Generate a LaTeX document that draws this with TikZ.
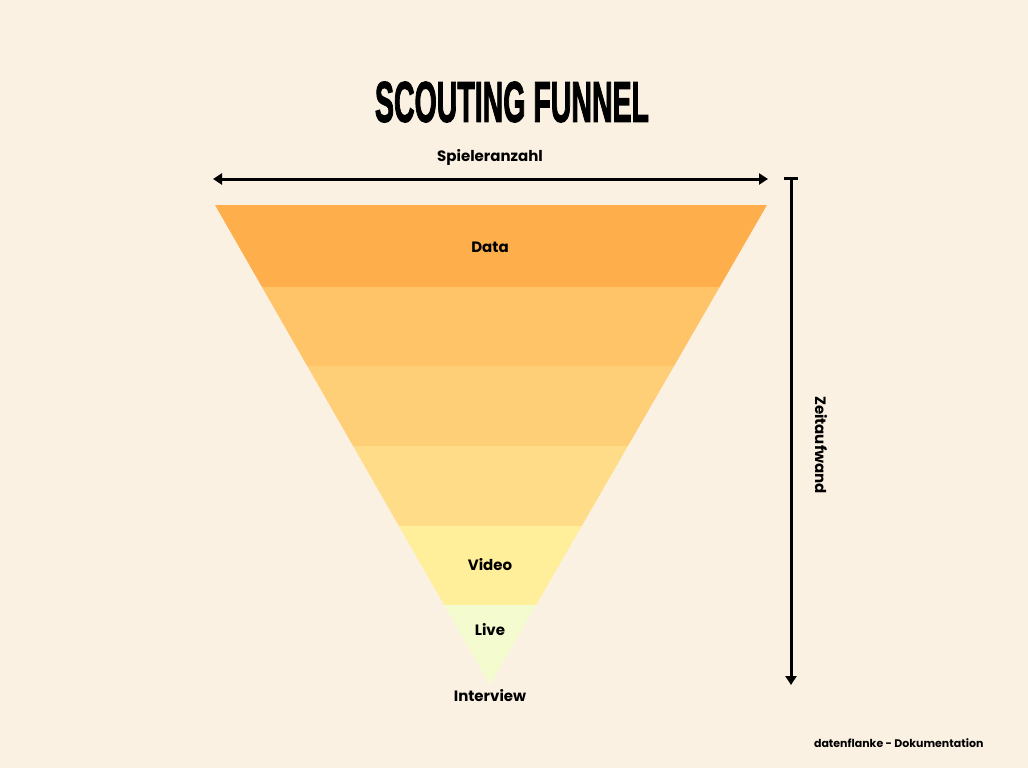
\documentclass[tikz,border=0pt]{standalone}
\usepackage{fontspec}
\setmainfont{Poppins}
\newfontfamily\headfont[FakeBold=2.5]{Liberation Sans}
\usetikzlibrary{arrows.meta}
\definecolor{paper}{HTML}{FBF1E3}
\definecolor{bandA}{HTML}{FFAE4C}
\definecolor{bandB}{HTML}{FFC468}
\definecolor{bandC}{HTML}{FFCF78}
\definecolor{bandD}{HTML}{FFDC88}
\definecolor{bandE}{HTML}{FFEF9A}
\definecolor{bandF}{HTML}{F3FBCF}
\tikzset{
	lbl/.style={font=\fontsize{15}{18}\selectfont\bfseries},
	axis/.style={line width=3pt,line cap=butt}
}
\begin{document}
\begin{tikzpicture}[x=1pt,y=-1pt]
		\fill[paper] (0,0) rectangle (1028,768);
		\useasboundingbox (0,0) rectangle (1028,768);
		\coordinate (L) at (215,205);
		\coordinate (R) at (767,205);
		\coordinate (T) at (490,685);
		\begin{scope}
			\clip (L) -- (R) -- (T) -- cycle;
			\fill[bandA] (200,204) rectangle (780,287);
			\fill[bandB] (200,287) rectangle (780,366);
			\fill[bandC] (200,366) rectangle (780,446);
			\fill[bandD] (200,446) rectangle (780,526);
			\fill[bandE] (200,526) rectangle (780,605);
			\fill[bandF] (200,605) rectangle (780,690);
		\end{scope}
		\node (title) at (512,102) {\resizebox{274pt}{40pt}{\headfont\bfseries SCOUTING FUNNEL}};
		\coordinate (W1) at (213,179);
		\coordinate (W2) at (768,179);
		\draw[axis,{Triangle[length=9pt,width=11pt]}-{Triangle[length=9pt,width=11pt]}] (W1) -- (W2);
		\node[lbl] (spieler) at (490,157) {Spieleranzahl};
		\coordinate (Z1) at (791,177);
		\coordinate (Z2) at (791,685);
		\draw[axis,{Bar[width=14pt]}-{Triangle[length=9pt,width=11pt]}] (Z1) -- (Z2);
		\node[lbl,rotate=-90] (zeit) at (821,445) {Zeitaufwand};
		\node[lbl] (data) at (490,247) {Data};
		\node[lbl] (video) at (490,565) {Video};
		\node[lbl] (live) at (490,630) {Live};
		\node[lbl] (interview) at (490,696) {Interview};
		\node[font=\fontsize{11}{13}\selectfont\bfseries,anchor=east] (credit) at (987,743) {datenflanke - Dokumentation};
	\end{tikzpicture}
\end{document}
